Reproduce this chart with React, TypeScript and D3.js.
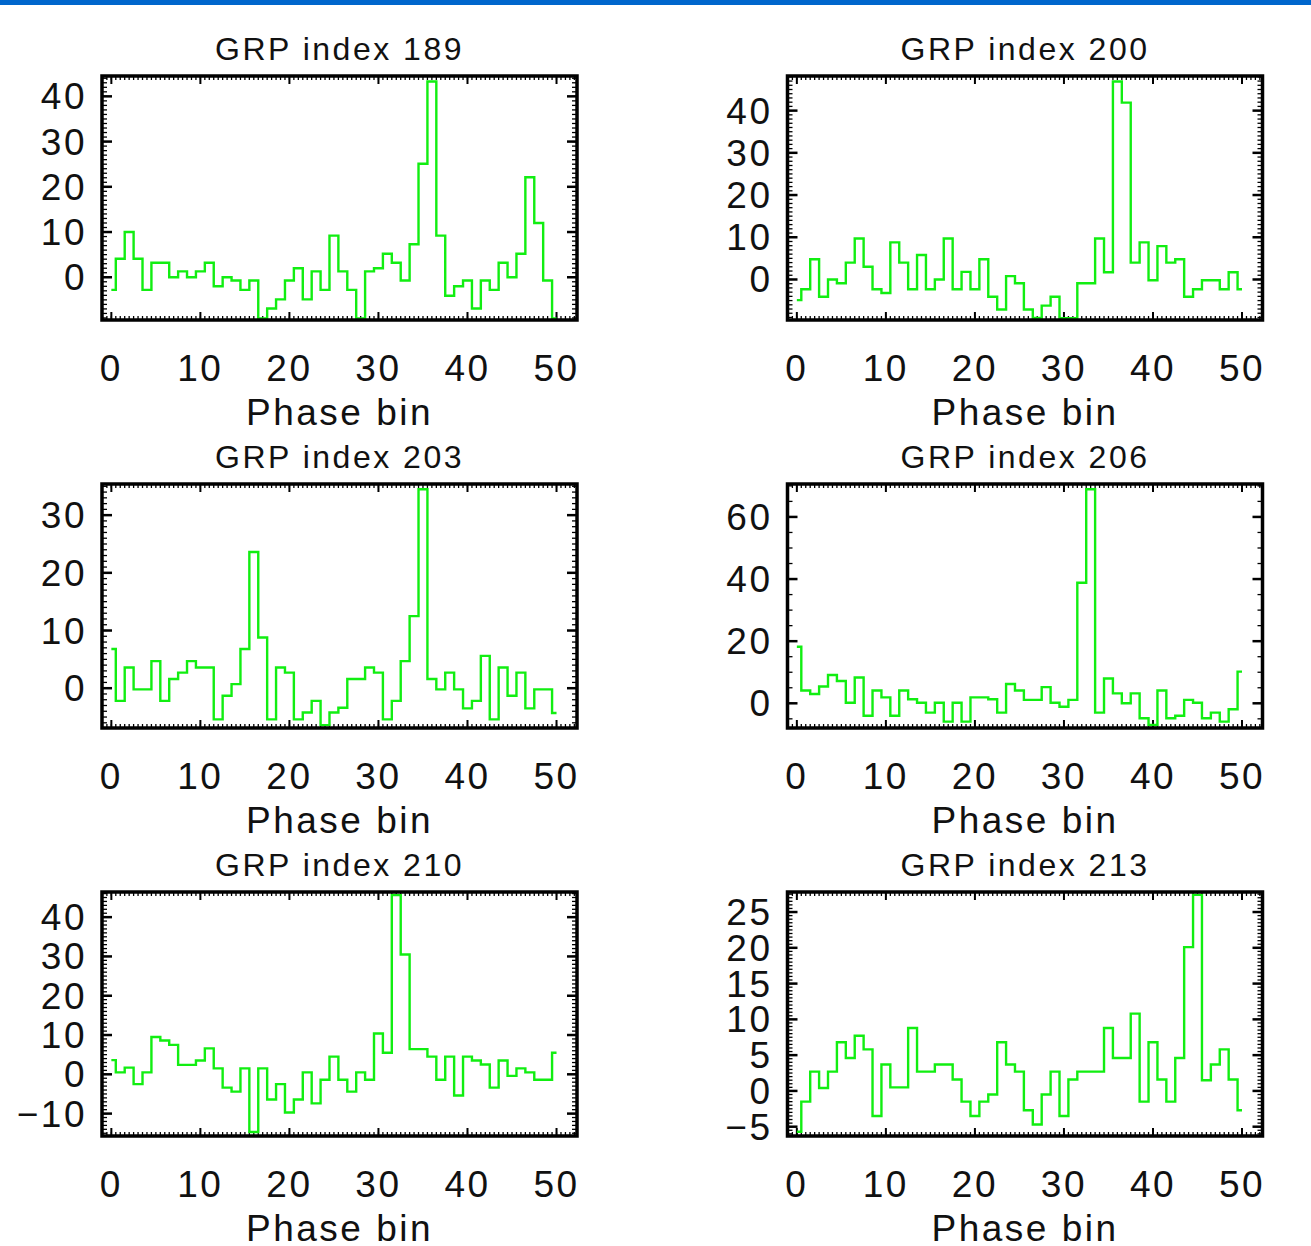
import React from "react";
import * as d3 from "d3";

const titles = ["GRP index 189", "GRP index 200", "GRP index 203", "GRP index 206", "GRP index 210", "GRP index 213"];

const grp189 = [-2.8,4.1,10,4.1,-2.8,3.2,3.2,0,1.3,0,1.3,3.2,-2,0,-0.7,-2.8,-0.7,-9.1,-6.9,-4.9,-0.7,2,-4.9,1.3,-2.8,9.2,1.3,-2.8,-9.1,1.3,2,5.2,3.2,-0.7,7.3,25.1,43.3,9.2,-4.1,-2,-0.7,-6.9,-0.7,-2.8,3.2,0,5.2,22.1,12,-0.7,-9.1];
const grp200 = [-4.9,-2.3,4.8,-4.1,0,-0.9,4.0,9.7,3.0,-2.3,-3.2,8.8,4.0,-2.3,5.8,-2.3,0,9.7,-2.3,1.8,-2.3,4.8,-4.1,-7.1,0.8,-0.9,-7.1,-9.1,-6.2,-4.1,-9.2,-9.2,-0.9,-0.9,9.7,1.7,46.9,41.9,4.0,8.8,-0.2,7.9,4.0,4.8,-4.1,-2.3,-0.2,-0.2,-2.3,1.7,-2.3];
const grp203 = [6.8,-2.2,3.6,-0.2,-0.2,4.7,-2.2,1.6,2.7,4.7,3.6,3.6,-5.4,-1.3,0.7,6.8,23.6,8.8,-5.4,3.6,2.7,-5.4,-4.2,-2.2,-6.4,-4.2,-3.4,1.6,1.6,3.6,2.7,-5.4,-2.2,4.7,12.5,34.5,1.6,-0.2,2.7,-0.2,-3.5,-2.2,5.6,-5.4,3.6,-1.3,2.7,-3.5,-0.2,-0.2,-4.3];
const grp206 = [18.2,4.1,3.0,5.4,9.1,7.2,0.2,8.3,-4.0,4.1,1.9,-4.0,4.1,1.3,0.2,-3.0,0.2,-5.9,0.2,-5.9,1.9,1.9,1.3,-3.0,6.2,4.1,1.1,1.1,5.2,0.2,-1.1,1.1,38.8,68.9,-3.0,8.0,3.2,0,3.2,-4.8,-7.0,4.1,-4.8,-4.0,1.1,0.2,-4.8,-3.0,-5.9,-1.9,10.2];
const grp210 = [3.6,0.5,1.7,-2.5,0.5,9.5,8.6,7.5,2.4,2.4,3.5,6.6,1.5,-3.4,-4.4,1.5,-14.7,1.5,-6.4,-2.5,-9.7,-6.4,0.5,-7.4,-1.4,4.5,-1.4,-4.4,0.5,-1.4,10.4,5.5,45.6,30.5,6.4,6.4,4.5,-1.4,4.5,-5.4,4.5,3.5,2.5,-3.4,3.5,-0.4,1.5,0.5,-1.4,-1.4,5.5];
const grp213 = [-5.7,-1.5,2.7,0.4,2.7,6.8,4.6,7.7,5.8,-3.5,3.7,0.5,0.5,8.8,2.7,2.7,3.7,3.7,1.6,-1.5,-3.5,-1.5,-0.5,6.8,3.7,2.7,-2.7,-4.7,-0.5,2.7,-3.5,1.6,2.7,2.7,2.7,8.8,4.6,4.6,10.8,-1.5,6.8,1.6,-1.5,4.6,20.1,27.4,1.5,3.7,5.8,1.6,-2.7];

const series = [grp189, grp200, grp203, grp206, grp210, grp213];

const xTicks = [0, 10, 20, 30, 40, 50];
const xDomain = [-1.05, 52.3];
const xLabel = "Phase bin";

const yDomains = [[-9.45, 44.5], [-9.6, 48.2], [-6.9, 35.4], [-7.95, 70.6], [-15.7, 46.4], [-6.3, 27.8]];
const yTicks = [[0, 10, 20, 30, 40], [0, 10, 20, 30, 40], [0, 10, 20, 30], [0, 20, 40, 60], [-10, 0, 10, 20, 30, 40], [-5, 0, 5, 10, 15, 20, 25]];
const yMinorStep = [1, 1, 1, 5, 1, 0.5];

const W = 1311;
const H = 1246;
const colX = [102, 787.5];
const rowY = [76, 484, 892];
const frameW = 475;
const frameH = 244;
const FONT = "'Liberation Sans', Arial, sans-serif";

function fmt(v: number) {
  return v < 0 ? "\u2212" + Math.abs(v) : String(v);
}

function Panel({ idx }: { idx: number }) {
  const x0 = colX[idx % 2];
  const y0 = rowY[Math.floor(idx / 2)];
  const x = d3.scaleLinear().domain(xDomain).range([x0, x0 + frameW]);
  const [ylo, yhi] = yDomains[idx];
  const y = d3.scaleLinear().domain([ylo, yhi]).range([y0 + frameH, y0]);
  const data = series[idx];
  const line = d3
    .line<number>()
    .x((_, i) => x(i))
    .y((d) => y(d))
    .curve(d3.curveStep);

  const xMinor = d3.range(Math.ceil(xDomain[0] * 2) / 2, xDomain[1], 0.5);
  const ms = yMinorStep[idx];
  const yMinor = d3.range(Math.ceil(ylo / ms) * ms, yhi, ms);
  const bottom = y0 + frameH;
  const right = x0 + frameW;

  return (
    <g>
      <defs>
        <clipPath id={`clip${idx}`}>
          <rect x={x0} y={y0} width={frameW} height={frameH} />
        </clipPath>
      </defs>
      {xMinor.map((v, i) => (
        <g key={`xm${i}`} stroke="#000" strokeWidth={1.3}>
          <line x1={x(v)} x2={x(v)} y1={bottom} y2={bottom - 4} />
          <line x1={x(v)} x2={x(v)} y1={y0} y2={y0 + 4} />
        </g>
      ))}
      {xTicks.map((v, i) => (
        <g key={`xM${i}`} stroke="#000" strokeWidth={2}>
          <line x1={x(v)} x2={x(v)} y1={bottom} y2={bottom - 8} />
          <line x1={x(v)} x2={x(v)} y1={y0} y2={y0 + 8} />
        </g>
      ))}
      {yMinor.map((v, i) => (
        <g key={`ym${i}`} stroke="#000" strokeWidth={1.3}>
          <line x1={x0} x2={x0 + 5} y1={y(v)} y2={y(v)} />
          <line x1={right} x2={right - 5} y1={y(v)} y2={y(v)} />
        </g>
      ))}
      {yTicks[idx].map((v, i) => (
        <g key={`yM${i}`} stroke="#000" strokeWidth={2.5}>
          <line x1={x0} x2={x0 + 10} y1={y(v)} y2={y(v)} />
          <line x1={right} x2={right - 10} y1={y(v)} y2={y(v)} />
        </g>
      ))}
      <path d={line(data) || ""} fill="none" stroke="#11ee11" strokeWidth={2.4} clipPath={`url(#clip${idx})`} />
      <rect x={x0} y={y0} width={frameW} height={frameH} fill="none" stroke="#000" strokeWidth={3.5} />
      {xTicks.map((v, i) => (
        <text key={`xl${i}`} x={x(v)} y={bottom + 61} textAnchor="middle" fontFamily={FONT} fontSize={37} letterSpacing={2.5} fill="#111">
          {fmt(v)}
        </text>
      ))}
      {yTicks[idx].map((v, i) => (
        <text key={`yl${i}`} x={x0 - 15} y={y(v) + 13} textAnchor="end" fontFamily={FONT} fontSize={37} letterSpacing={2.5} fill="#111">
          {fmt(v)}
        </text>
      ))}
      <text x={x0 + frameW / 2} y={bottom + 105} textAnchor="middle" fontFamily={FONT} fontSize={37} letterSpacing={2.5} fill="#111">
        {xLabel}
      </text>
      <text x={x0 + frameW / 2} y={y0 - 16} textAnchor="middle" fontFamily={FONT} fontSize={32} letterSpacing={2.5} fill="#111">
        {titles[idx]}
      </text>
    </g>
  );
}

export default function App() {
  return (
    <svg width={W} height={H} style={{ position: "absolute", left: 0, top: 0, background: "#fff" }}>
      <rect x={0} y={0} width={W} height={H} fill="#fff" />
      <rect x={0} y={0} width={W} height={5} fill="#0066cc" />
      {series.map((_, i) => (
        <Panel key={i} idx={i} />
      ))}
    </svg>
  );
}
